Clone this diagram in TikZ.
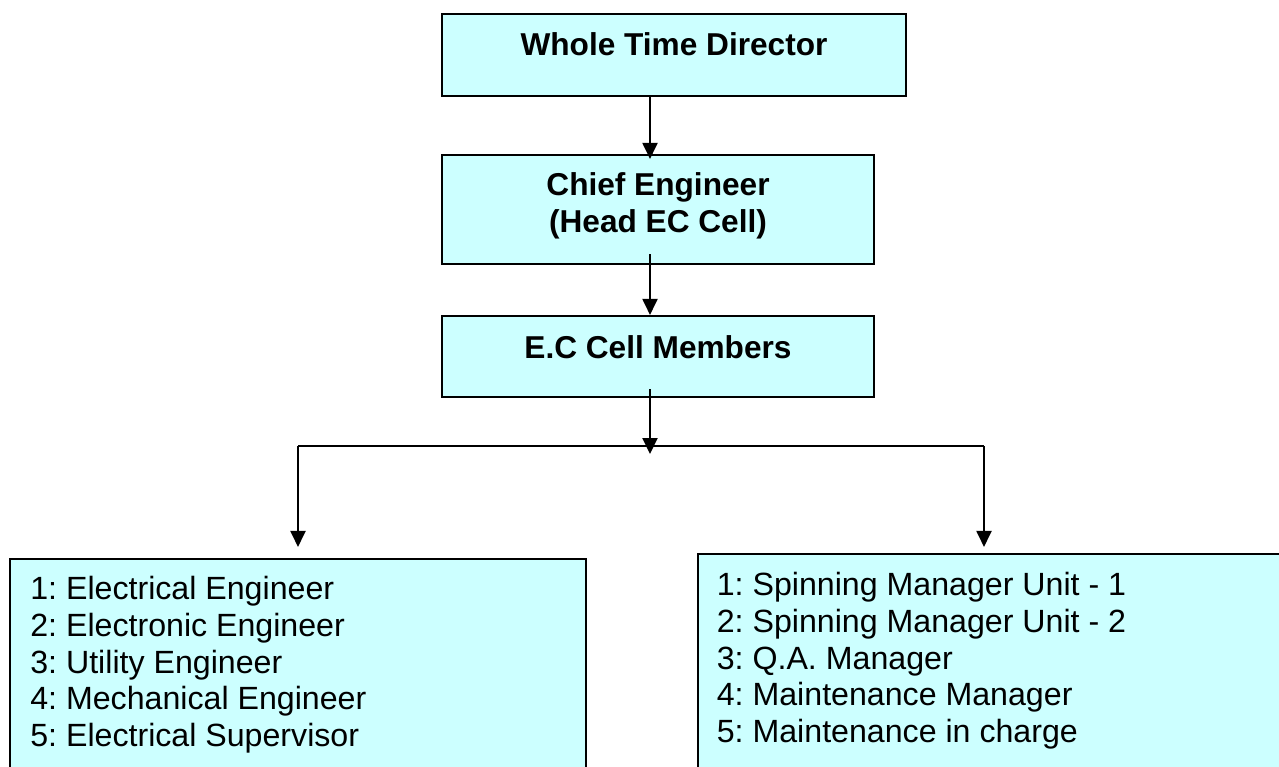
\documentclass[tikz,border=0pt]{standalone}
\usepackage{fontspec}
\setmainfont{Liberation Sans}
\usetikzlibrary{arrows.meta,positioning}
\definecolor{cellcyan}{RGB}{204,255,255}
\tikzset{
  chartbox/.style={draw=black, line width=1.2pt, fill=cellcyan, inner sep=0pt},
  headtext/.style={font=\bfseries\fontsize{18}{21}\selectfont, align=center, inner sep=0pt},
  listtext/.style={font=\frenchspacing\fontsize{18.3}{20.9}\selectfont, align=left, inner sep=0pt},
  down/.style={line width=1.1pt, -{Triangle[length=0.32cm,width=0.3cm]}}
}
\begin{document}
\begin{tikzpicture}[x=0.02cm,y=-0.02cm]
	\clip (0,0) rectangle (1279,767);
	\node[chartbox, minimum width=9.28cm, minimum height=1.64cm] (wtd) at (674,55) {};
	\node[chartbox, minimum width=8.64cm, minimum height=2.18cm] (chief) at (658,209.5) {};
	\node[chartbox, minimum width=8.64cm, minimum height=1.62cm] (cell) at (658,356.5) {};
	\node[chartbox, minimum width=11.52cm, minimum height=4.62cm] (eng) at (298,674.5) {};
	\node[chartbox, minimum width=12.04cm, minimum height=4.72cm] (mgr) at (999,672) {};
	\node[headtext, anchor=north] (wtdtext) at (674,32) {Whole Time Director};
	\node[headtext, anchor=north] (chieftext) at (658,172) {Chief Engineer\\(Head EC Cell)};
	\node[headtext, anchor=north] (celltext) at (658,335) {E.C Cell Members};
	\node[listtext, anchor=north west] (engtext) at (30,576) {1: Electrical Engineer\\2: Electronic Engineer\\3: Utility Engineer\\4: Mechanical Engineer\\5: Electrical Supervisor};
	\node[listtext, anchor=north west] (mgrtext) at (716.5,572) {1: Spinning Manager Unit - 1\\2: Spinning Manager Unit - 2\\3: Q.A. Manager\\4: Maintenance Manager\\5: Maintenance in charge};
	\coordinate (spine) at (650,0);
	\coordinate (split) at (650,446);
	\coordinate (splitl) at (298,446);
	\coordinate (splitr) at (984,446);
	\draw[down, shorten >=-0.1cm] (wtd.south -| spine) -- (chief.north -| spine);
	\draw[down, shorten <=-0.22cm] (chief.south -| spine) -- (cell.north -| spine);
	\draw[down, shorten <=-0.18cm, shorten >=-0.16cm] (cell.south -| spine) -- (split);
	\draw[line width=1.1pt] (splitl) -- (splitr);
	\draw[down, shorten >=0.22cm] (splitl) -- (splitl |- eng.north);
	\draw[down, shorten >=0.12cm] (splitr) -- (splitr |- mgr.north);
\end{tikzpicture}
\end{document}
